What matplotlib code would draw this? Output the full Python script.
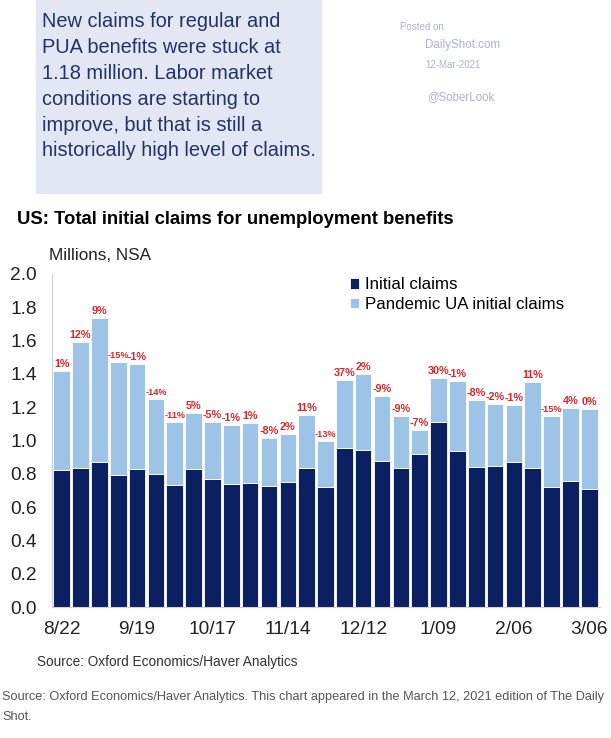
import matplotlib
matplotlib.use("Agg")

import numpy as np
import matplotlib.pyplot as plt

plt.rcParams["font.family"] = ["Liberation Sans", "DejaVu Sans"]

# ============ data (millions, NSA) ============
weeks = ["8/22", "8/29", "9/05", "9/12", "9/19", "9/26", "10/03", "10/10",
         "10/17", "10/24", "10/31", "11/07", "11/14", "11/21", "11/28",
         "12/05", "12/12", "12/19", "12/26", "1/02", "1/09", "1/16", "1/23",
         "1/30", "2/06", "2/13", "2/20", "2/27", "3/06"]

initial_claims = [0.825, 0.837, 0.869, 0.795, 0.829, 0.801, 0.731, 0.829,
                  0.767, 0.739, 0.743, 0.729, 0.751, 0.836, 0.719, 0.956,
                  0.944, 0.875, 0.837, 0.920, 1.113, 0.936, 0.842, 0.849,
                  0.872, 0.837, 0.719, 0.757, 0.711]

total_claims = [1.420, 1.590, 1.737, 1.474, 1.458, 1.251, 1.110, 1.167,
                1.114, 1.096, 1.107, 1.016, 1.042, 1.152, 1.000, 1.366,
                1.399, 1.267, 1.149, 1.062, 1.375, 1.360, 1.245, 1.221,
                1.211, 1.349, 1.145, 1.195, 1.191]

pct_change = ["1%", "12%", "9%", "-15%", "-1%", "-14%", "-11%", "5%", "-5%",
              "-1%", "1%", "-8%", "2%", "11%", "-13%", "37%", "2%", "-9%",
              "-9%", "-7%", "30%", "-1%", "-8%", "-2%", "-1%", "11%", "-15%",
              "4%", "0%"]

pua_claims = [t - i for t, i in zip(total_claims, initial_claims)]

# ============ figure ============
fig = plt.figure(figsize=(6.11, 7.38), dpi=100)

# commentary box
fig.patches.append(plt.Rectangle((36 / 611, 1 - 193 / 738), 285 / 611, 193 / 738,
                                 transform=fig.transFigure, color="#e3e7f3",
                                 zorder=0))
box_text = ("New claims for regular and\nPUA benefits were stuck at\n"
            "1.18 million. Labor market\nconditions are starting to\n"
            "improve, but that is still a\nhistorically high level of claims.")
fig.text(42 / 611, 1 - 12 / 738, box_text, ha="left", va="top",
         fontsize=14.4, color="#1f3468", linespacing=1.46)

wm = "#aab4cc"
fig.text(400 / 611, 1 - 27 / 738, "Posted on", fontsize=7, color=wm, va="center")
fig.text(425 / 611, 1 - 45 / 738, "DailyShot.com", fontsize=8.4, color=wm, va="center")
fig.text(425 / 611, 1 - 65 / 738, "12-Mar-2021", fontsize=7, color=wm, va="center")
fig.text(427 / 611, 1 - 97 / 738, "@SoberLook", fontsize=8.3, color=wm, va="center")

fig.text(17 / 611, 1 - 219 / 738,
         "US: Total initial claims for unemployment benefits",
         fontsize=13.3, fontweight="bold", color="black", va="center")
fig.text(49 / 611, 1 - 256 / 738, "Millions, NSA", fontsize=12.3,
         color="#222222", va="center")

# ============ chart ============
ax = fig.add_axes([52 / 611, 1 - 607 / 738, 548 / 611, 333 / 738])
x = np.arange(len(weeks))
navy = "#0b2060"
light = "#9dc3e6"

ax.bar(x, initial_claims, 0.88, color=navy, edgecolor="white",
       linewidth=0.6, label="Initial claims", zorder=2)
ax.bar(x, pua_claims, 0.88, bottom=initial_claims, color=light,
       edgecolor="white", linewidth=0.6, label="Pandemic UA initial claims",
       zorder=2)

# 长标签（如 -15%）字号略小，避免相互重叠
for xi, t, lab in zip(x, total_claims, pct_change):
    fs = 6.6 if len(lab) > 3 else 7.8
    ax.text(xi, t + 0.012, lab, ha="center", va="bottom", fontsize=fs,
            fontweight="bold", color="#d8282c")

ax.set_xlim(-0.515, 28.57)
ax.set_ylim(0, 2.0)
ax.set_yticks(np.arange(0, 2.01, 0.2))
ax.set_yticklabels([f"{v:.1f}" for v in np.arange(0, 2.01, 0.2)])
ax.set_xticks(x[::4])
ax.set_xticklabels(weeks[::4])
ax.tick_params(axis="both", length=0, labelsize=13.8, colors="#222222")
ax.tick_params(axis="y", pad=11)
ax.tick_params(axis="x", pad=10)

for s in ["top", "right"]:
    ax.spines[s].set_visible(False)
ax.spines["left"].set_color("#d0d0d0")
ax.spines["bottom"].set_color("#d0d0d0")

ax.legend(loc="upper left", bbox_to_anchor=(0.528, 1.015), frameon=False,
          fontsize=12.2, handlelength=0.55, handleheight=0.55,
          handletextpad=0.35, labelspacing=0.25, borderaxespad=0.1)

fig.text(37 / 611, 1 - 662 / 738, "Source: Oxford Economics/Haver Analytics",
         fontsize=9.8, color="#333333", va="center")
fig.text(2 / 611, 1 - 697 / 738,
         "Source: Oxford Economics/Haver Analytics. This chart appeared in "
         "the March 12, 2021 edition of The Daily",
         fontsize=9.15, color="#555555", va="center",
         family=["Liberation Sans Narrow", "Liberation Sans", "DejaVu Sans"])
fig.text(2 / 611, 1 - 717 / 738, "Shot.", fontsize=9.15, color="#555555",
         va="center",
         family=["Liberation Sans Narrow", "Liberation Sans", "DejaVu Sans"])

fig.savefig("out.png", dpi=100)
